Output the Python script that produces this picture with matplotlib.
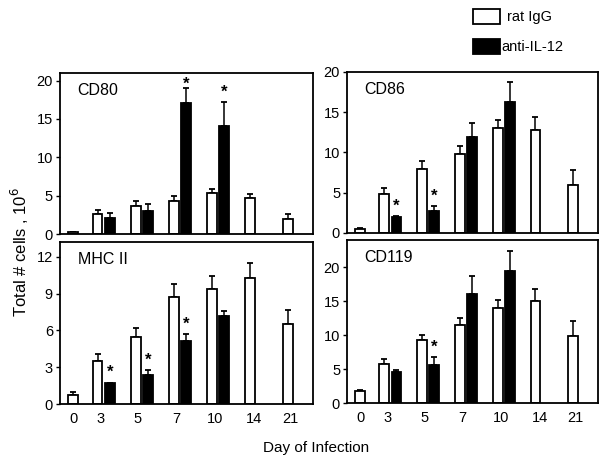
"""Cell counts after infection, rat IgG vs anti-IL-12."""
import matplotlib
matplotlib.use('Agg')
import matplotlib.pyplot as plt
import numpy as np
from matplotlib.patches import Rectangle

plt.rcParams['font.family'] = ['Liberation Sans', 'DejaVu Sans']

days = ['0', '3', '5', '7', '10', '14', '21']

# rat IgG (white) means and upper errors, anti-IL-12 (black); None = not measured
cd80_igg = [0.2, 2.65, 3.7, 4.25, 5.4, 4.65, 2.0]
cd80_igg_err = [0.05, 0.45, 0.6, 0.7, 0.45, 0.55, 0.65]
cd80_il12 = [None, 2.1, 2.95, 17.05, 14.1, None, None]
cd80_il12_err = [None, 0.6, 0.9, 2.05, 3.1, None, None]
cd80_star = [False, False, False, True, True, False, False]

cd86_igg = [0.5, 4.8, 7.9, 9.8, 13.0, 12.8, 5.95]
cd86_igg_err = [0.1, 0.75, 1.05, 1.0, 1.0, 1.55, 1.9]
cd86_il12 = [None, 1.95, 2.7, 11.95, 16.3, None, None]
cd86_il12_err = [None, 0.1, 0.6, 1.7, 2.4, None, None]
cd86_star = [False, True, True, False, False, False, False]

mhc_igg = [0.75, 3.5, 5.5, 8.75, 9.4, 10.25, 6.5]
mhc_igg_err = [0.2, 0.55, 0.7, 1.0, 1.0, 1.25, 1.15]
mhc_il12 = [None, 1.7, 2.4, 5.1, 7.15, None, None]
mhc_il12_err = [None, 0.05, 0.35, 0.6, 0.4, None, None]
mhc_star = [False, True, True, True, False, False, False]

cd119_igg = [1.7, 5.8, 9.25, 11.45, 14.0, 15.05, 9.8]
cd119_igg_err = [0.25, 0.75, 0.75, 1.0, 1.1, 1.75, 2.25]
cd119_il12 = [None, 4.55, 5.6, 16.05, 19.5, None, None]
cd119_il12_err = [None, 0.35, 1.2, 2.65, 2.9, None, None]
cd119_star = [False, False, True, False, False, False, False]

panels = [
    ('CD80', cd80_igg, cd80_igg_err, cd80_il12, cd80_il12_err, cd80_star,
     [0, 5, 10, 15, 20], 21.0, [0.099, 0.4935, 0.418, 0.3485]),
    ('CD86', cd86_igg, cd86_igg_err, cd86_il12, cd86_il12_err, cd86_star,
     [0, 5, 10, 15, 20], 20.0, [0.5736, 0.4957, 0.415, 0.3485]),
    ('MHC II', mhc_igg, mhc_igg_err, mhc_il12, mhc_il12_err, mhc_star,
     [0, 3, 6, 9, 12], 13.2, [0.099, 0.1255, 0.418, 0.3507]),
    ('CD119', cd119_igg, cd119_igg_err, cd119_il12, cd119_il12_err, cd119_star,
     [0, 5, 10, 15, 20], 24.0, [0.5736, 0.1277, 0.415, 0.3528]),
]

fig = plt.figure(figsize=(6.05, 4.62), dpi=100)

width = 0.26
off = 0.16
for i, (name, igg, igg_e, il, il_e, star, yt, ytop, rect) in enumerate(panels):
    ax = fig.add_axes(rect)
    slots = np.arange(len(days), dtype=float)
    # day 0 has a single bar, sitting right of slot centre
    wx = slots - off
    wx[0] = 0.2
    bx = slots + off

    ax.bar(wx, igg, width, color='white', edgecolor='black', linewidth=1.3,
           zorder=2)
    ax.errorbar(wx, igg, yerr=[np.zeros(len(igg)), igg_e], fmt='none',
                ecolor='black', elinewidth=1.1, capsize=2.5, capthick=1.3,
                zorder=1)

    idx = [k for k, v in enumerate(il) if v is not None]
    bv = [il[k] for k in idx]
    be = [il_e[k] for k in idx]
    ax.bar(bx[idx], bv, width, color='black', edgecolor='black', linewidth=1.3,
           zorder=2)
    ax.errorbar(bx[idx], bv, yerr=[np.zeros(len(bv)), be], fmt='none',
                ecolor='black', elinewidth=1.1, capsize=2.5, capthick=1.3,
                zorder=1)

    # significance stars just above the error caps, kept inside the frame
    ppu = rect[3] * 462 / ytop
    for k in idx:
        if star[k]:
            sy = min(il[k] + il_e[k] + 10 / ppu, ytop - 11 / ppu)
            ax.text(bx[k], sy, '*', ha='center', va='center', fontsize=12,
                    fontweight='bold')

    ax.set_xlim(-0.15, 6.5)
    ax.set_ylim(0, ytop)
    ax.set_yticks(yt)
    ax.tick_params(axis='y', direction='out', length=3, width=1,
                   labelsize=10.5, pad=2)
    if i >= 2:
        ax.set_xticks([0.22, 0.92, 1.9, 2.9, 3.93, 4.95, 5.9])
        ax.set_xticklabels(days)
        ax.tick_params(axis='x', length=0, labelsize=10.5, pad=6)
    else:
        ax.set_xticks([])
    for s in ax.spines.values():
        s.set_linewidth(1.3)
    ax.text(0.07, 0.89, name, transform=ax.transAxes, fontsize=11.5,
            ha='left', va='center')

fig.text(0.033, 0.455, 'Total # cells , 10$^6$', rotation=90, ha='center',
         va='center', fontsize=12)
fig.text(0.523, 0.03, 'Day of Infection', ha='center', va='center',
         fontsize=11)

# legend drawn by hand to match the boxed swatches
fig.patches.append(Rectangle((473 / 605, 1 - 24 / 462), 27 / 605, 15 / 462,
                             transform=fig.transFigure, facecolor='white',
                             edgecolor='black', linewidth=1.3))
fig.patches.append(Rectangle((473 / 605, 1 - 54 / 462), 27 / 605, 15 / 462,
                             transform=fig.transFigure, facecolor='black',
                             edgecolor='black', linewidth=1.3))
fig.text(507 / 605, 1 - 17 / 462, 'rat IgG', ha='left', va='center',
         fontsize=10.5)
fig.text(501 / 605, 1 - 47 / 462, 'anti-IL-12', ha='left', va='center',
         fontsize=10.5)

fig.savefig('out.png', dpi=100)
